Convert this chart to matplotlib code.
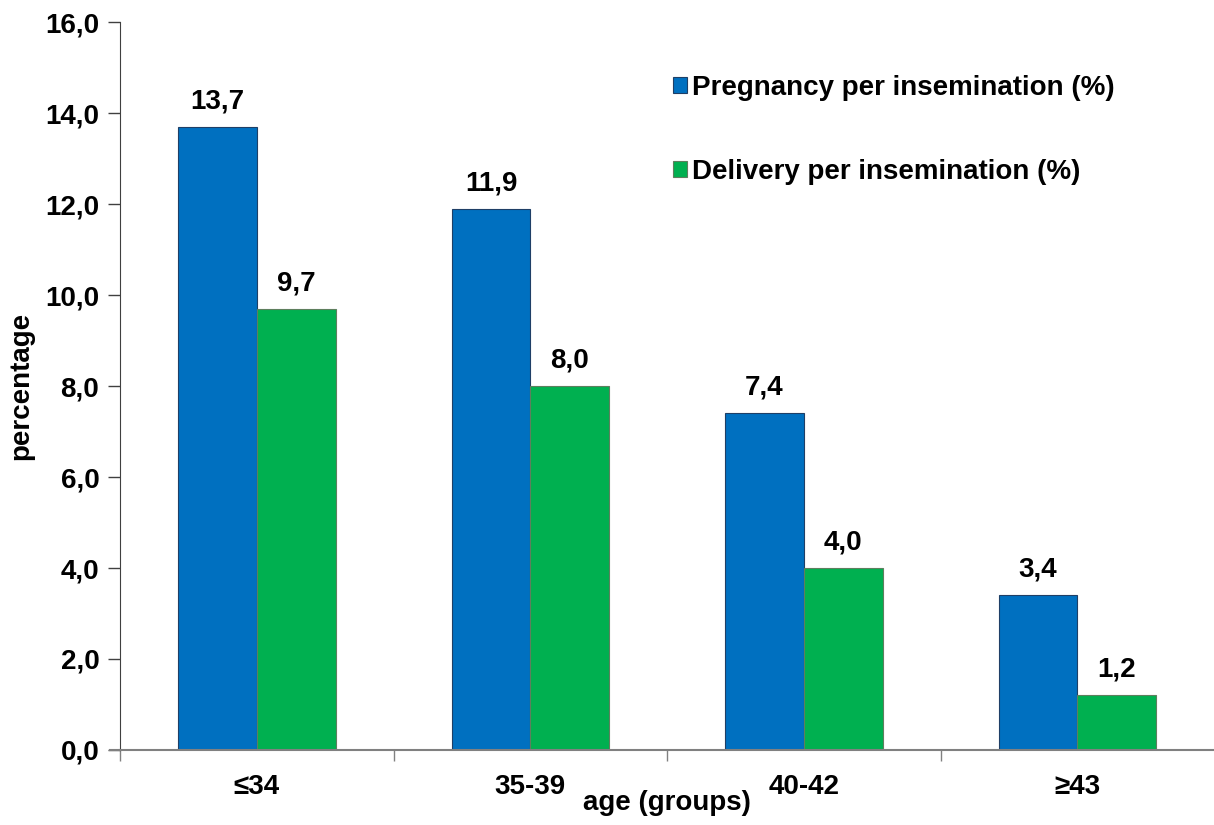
import matplotlib.pyplot as plt
import numpy as np
from matplotlib.ticker import FixedLocator

plt.rcParams['font.family'] = ['Liberation Sans', 'DejaVu Sans']
plt.rcParams['font.weight'] = 'bold'

# data
groups = ['≤34', '35-39', '40-42', '≥43']
pregnancy = [13.7, 11.9, 7.4, 3.4]
delivery = [9.7, 8.0, 4.0, 1.2]
labels = ['Pregnancy per insemination (%)', 'Delivery per insemination (%)']

fig = plt.figure(figsize=(12.14, 8.25), dpi=100)
ax = fig.add_axes([0.099, 0.091, 0.901, 0.882])

x = np.arange(len(groups))
w = 0.288
b1 = ax.bar(x - w / 2, pregnancy, w, color='#0070C0', edgecolor='#1F3F66',
            linewidth=0.8, label=labels[0])
b2 = ax.bar(x + w / 2, delivery, w, color='#00B050', edgecolor='#5E7F5E',
            linewidth=0.8, label=labels[1])

# value labels with decimal comma
for bars in (b1, b2):
    for r in bars:
        h = r.get_height()
        ax.annotate(f'{h:.1f}'.replace('.', ','), (r.get_x() + r.get_width() / 2, h),
                    xytext=(0, 9), textcoords='offset points',
                    ha='center', va='bottom', fontsize=20, fontweight='bold')

ax.set_xlim(-0.5, 3.5)
ax.set_ylim(0, 16)
ax.set_yticks(np.arange(0, 17, 2))
ax.set_yticklabels([f'{v:.1f}'.replace('.', ',') for v in np.arange(0, 17, 2)])
ax.set_xticks(x)
ax.set_xticklabels(groups)
ax.xaxis.set_minor_locator(FixedLocator([-0.5, 0.5, 1.5, 2.5]))
ax.tick_params(axis='x', which='major', length=0, pad=17, labelsize=20)
ax.tick_params(axis='x', which='minor', length=8, width=1, color='#808080')
ax.tick_params(axis='y', length=9, width=1, labelsize=20, pad=6, color='#404040')

for s in ('top', 'right'):
    ax.spines[s].set_visible(False)
ax.spines['left'].set_color('#404040')
ax.spines['bottom'].set_color('#808080')
ax.spines['bottom'].set_linewidth(1.5)

# x axis line runs a little past the y axis, as in the original
ax.plot([-0.537, -0.5], [0, 0], color='#808080', lw=1.5, clip_on=False)

ax.set_xlabel('age (groups)', fontsize=20, fontweight='bold', labelpad=-7)
ax.set_ylabel('percentage', fontsize=20, fontweight='bold', labelpad=8)

ax.legend(loc='upper left', bbox_to_anchor=(0.495, 0.943), frameon=False,
          fontsize=20, handlelength=0.5, handleheight=0.5, handletextpad=0.2,
          labelspacing=2.1, borderaxespad=0)

plt.savefig('out.png', dpi=100)
